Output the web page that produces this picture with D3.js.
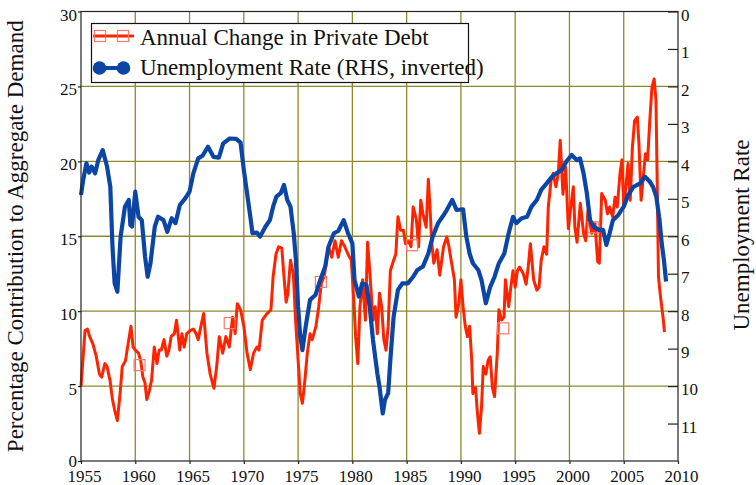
<!DOCTYPE html>
<html>
<head>
<meta charset="utf-8">
<script src="https://cdn.jsdelivr.net/npm/d3@7"></script>
<style>
  body { margin: 0; background: #fff; }
  svg { display: block; font-family: "Liberation Serif", "Times New Roman", serif; }
</style>
</head>
<body>
<div id="chart"></div>
<script>
// tick values
var yearTicks = [1955, 1960, 1965, 1970, 1975, 1980, 1985, 1990, 1995, 2000, 2005, 2010];
var debtTicks = [0, 5, 10, 15, 20, 25, 30];
var unempTicks = [0, 1, 2, 3, 4, 5, 6, 7, 8, 9, 10, 11];

// annual change in private debt, % of aggregate demand  [year, value]
var debtChange = [
  [1955.0, 5.0], [1955.2, 7.0], [1955.37, 8.7], [1955.6, 8.8], [1955.8, 8.3], [1956.1, 7.8],
  [1956.4, 7.0], [1956.7, 5.8], [1956.9, 5.6], [1957.2, 6.5], [1957.4, 6.3], [1957.67, 5.4],
  [1957.9, 4.1], [1958.1, 3.4], [1958.35, 2.7], [1958.6, 4.5], [1958.8, 6.3], [1959.1, 6.7],
  [1959.4, 8.1], [1959.6, 9.0], [1959.8, 7.6], [1960.0, 7.4], [1960.3, 7.2], [1960.5, 6.7],
  [1960.7, 5.6], [1960.9, 5.2], [1961.06, 4.1], [1961.3, 4.7], [1961.5, 5.4], [1961.75, 7.6],
  [1962.0, 6.5], [1962.2, 7.4], [1962.4, 7.4], [1962.65, 8.1], [1962.9, 7.0], [1963.1, 7.4],
  [1963.3, 8.3], [1963.6, 8.5], [1963.8, 9.4], [1964.1, 7.4], [1964.3, 8.5], [1964.5, 7.6],
  [1964.75, 8.5], [1965.05, 8.7], [1965.35, 8.8], [1965.6, 8.5], [1965.8, 8.1], [1966.05, 9.0],
  [1966.3, 9.85], [1966.6, 7.2], [1966.9, 5.8], [1967.25, 4.85], [1967.5, 6.3], [1967.74, 8.3],
  [1968.05, 7.2], [1968.35, 8.3], [1968.66, 7.6], [1968.97, 9.6], [1969.2, 8.5], [1969.4, 10.5],
  [1969.7, 10.1], [1970.0, 9.0], [1970.3, 7.2], [1970.6, 6.1], [1970.9, 7.2], [1971.2, 7.6],
  [1971.4, 7.4], [1971.7, 9.4], [1972.1, 9.8], [1972.5, 10.1], [1972.7, 12.3], [1972.96, 13.8],
  [1973.2, 14.3], [1973.5, 14.2], [1973.7, 12.3], [1973.9, 10.6], [1974.06, 11.2], [1974.3, 13.4],
  [1974.56, 12.5], [1974.77, 9.4], [1974.96, 7.2], [1975.2, 4.5], [1975.4, 3.85], [1975.6, 5.2],
  [1975.85, 7.2], [1976.1, 8.5], [1976.3, 8.1], [1976.65, 9.0], [1976.9, 10.3], [1977.15, 11.9],
  [1977.4, 12.3], [1977.8, 14.3], [1978.1, 13.6], [1978.4, 14.7], [1978.7, 13.6], [1979.0, 14.7],
  [1979.3, 14.3], [1979.6, 13.8], [1979.9, 13.4], [1980.15, 10.5], [1980.3, 8.3], [1980.5, 6.5],
  [1980.7, 10.3], [1980.95, 12.1], [1981.2, 9.4], [1981.4, 14.6], [1981.6, 12.7], [1981.9, 9.4],
  [1982.1, 10.3], [1982.3, 8.5], [1982.5, 11.2], [1982.7, 10.3], [1982.9, 8.1], [1983.1, 7.4],
  [1983.3, 9.0], [1983.5, 12.7], [1983.8, 13.4], [1984.0, 13.8], [1984.2, 16.3], [1984.45, 15.4],
  [1984.7, 15.4], [1984.9, 14.5], [1985.15, 14.7], [1985.4, 14.3], [1985.6, 16.95], [1985.9, 16.1],
  [1986.1, 14.3], [1986.3, 17.4], [1986.5, 16.5], [1986.8, 15.6], [1987.0, 18.8], [1987.15, 16.95],
  [1987.3, 14.7], [1987.5, 13.2], [1987.8, 14.1], [1988.05, 12.4], [1988.4, 14.3], [1988.7, 14.95],
  [1988.9, 14.3], [1989.1, 13.4], [1989.4, 12.1], [1989.55, 9.6], [1989.8, 10.5], [1990.0, 12.1],
  [1990.2, 10.3], [1990.4, 9.0], [1990.6, 8.3], [1990.8, 9.0], [1991.0, 6.7], [1991.1, 4.5],
  [1991.35, 4.9], [1991.5, 3.4], [1991.7, 1.85], [1991.9, 3.6], [1992.06, 6.3], [1992.3, 5.8],
  [1992.5, 6.7], [1992.7, 6.95], [1992.9, 4.9], [1993.1, 4.3], [1993.35, 7.2], [1993.5, 10.1],
  [1993.75, 9.4], [1993.97, 9.6], [1994.1, 12.1], [1994.4, 10.3], [1994.6, 11.6], [1994.8, 12.7],
  [1995.0, 11.6], [1995.2, 12.7], [1995.4, 12.95], [1995.75, 12.5], [1996.0, 11.8], [1996.2, 12.95],
  [1996.4, 14.5], [1996.7, 12.1], [1997.0, 11.4], [1997.2, 11.6], [1997.4, 13.4], [1997.65, 14.3],
  [1997.9, 13.8], [1998.05, 16.95], [1998.3, 18.7], [1998.5, 19.2], [1998.75, 18.3], [1998.97, 19.2],
  [1999.15, 21.4], [1999.4, 17.8], [1999.65, 19.6], [1999.9, 15.5], [2000.1, 16.8], [2000.36, 18.3],
  [2000.5, 15.6], [2000.7, 14.6], [2001.0, 17.2], [2001.3, 15.2], [2001.5, 14.7], [2001.7, 16.7],
  [2002.05, 15.2], [2002.35, 15.85], [2002.6, 13.3], [2002.75, 13.2], [2002.97, 17.85], [2003.3, 17.4],
  [2003.5, 16.5], [2003.7, 16.95], [2003.98, 16.3], [2004.2, 17.6], [2004.4, 16.95], [2004.66, 19.2],
  [2004.84, 20.1], [2005.0, 16.95], [2005.2, 18.3], [2005.4, 19.85], [2005.6, 17.4], [2005.8, 20.95],
  [2006.0, 22.7], [2006.25, 22.95], [2006.4, 21.2], [2006.6, 17.4], [2006.8, 18.95], [2007.0, 20.5],
  [2007.2, 20.1], [2007.4, 22.7], [2007.6, 24.95], [2007.8, 25.5], [2007.97, 24.1], [2008.1, 17.85],
  [2008.2, 12.3], [2008.35, 11.2], [2008.5, 10.3], [2008.65, 9.4], [2008.75, 8.6]
];

// hollow square markers on the debt series
var debtMarkers = [[1960.4, 6.4], [1968.7, 9.2], [1977.1, 11.95], [1985.5, 14.4], [1993.9, 8.85], [2002.2, 15.6]];

// unemployment rate, %  [year, value]  (plotted on the inverted right axis)
var unemployment = [
  [1955.0, 4.9], [1955.2, 4.5], [1955.5, 4.05], [1955.75, 4.3], [1955.98, 4.14], [1956.3, 4.32],
  [1956.6, 3.96], [1957.0, 3.7], [1957.4, 4.14], [1957.7, 4.68], [1957.9, 6.28], [1958.1, 7.26],
  [1958.35, 7.48], [1958.65, 6.01], [1959.05, 5.21], [1959.4, 5.03], [1959.55, 5.7], [1959.7, 5.74],
  [1960.0, 4.81], [1960.3, 5.48], [1960.6, 5.57], [1960.9, 6.54], [1961.14, 7.08], [1961.4, 6.72],
  [1961.8, 5.74], [1962.1, 5.48], [1962.6, 5.57], [1962.95, 5.88], [1963.35, 5.52], [1963.7, 5.65],
  [1964.1, 5.17], [1964.6, 4.99], [1965.0, 4.81], [1965.35, 4.32], [1965.8, 3.92], [1966.2, 3.85],
  [1966.7, 3.61], [1967.2, 3.88], [1967.7, 3.9], [1968.1, 3.52], [1968.7, 3.39], [1969.3, 3.4],
  [1969.7, 3.5], [1970.0, 4.23], [1970.3, 4.85], [1970.6, 5.48], [1970.8, 5.92], [1971.2, 5.9],
  [1971.5, 6.01], [1972.0, 5.74], [1972.4, 5.57], [1972.7, 5.21], [1973.0, 4.94], [1973.4, 4.85],
  [1973.7, 4.63], [1974.0, 5.03], [1974.3, 5.21], [1974.6, 5.92], [1974.8, 6.63], [1975.0, 7.88],
  [1975.2, 8.68], [1975.4, 9.04], [1975.7, 8.41], [1976.1, 7.7], [1976.6, 7.57], [1977.0, 7.2],
  [1977.5, 6.81], [1977.8, 6.28], [1978.3, 5.92], [1978.7, 5.86], [1979.2, 5.57], [1979.6, 5.92],
  [1980.0, 6.19], [1980.2, 7.17], [1980.6, 7.61], [1980.9, 7.26], [1981.3, 7.3], [1981.6, 7.88],
  [1981.9, 8.77], [1982.3, 9.66], [1982.5, 10.02], [1982.8, 10.73], [1983.0, 10.37], [1983.3, 10.19],
  [1983.5, 9.3], [1983.8, 8.15], [1984.2, 7.43], [1984.6, 7.26], [1985.1, 7.26], [1985.6, 7.08],
  [1986.0, 6.9], [1986.5, 6.81], [1987.0, 6.46], [1987.4, 6.01], [1987.9, 5.65], [1988.3, 5.48],
  [1988.7, 5.3], [1989.2, 5.03], [1989.6, 5.3], [1990.2, 5.28], [1990.5, 6.01], [1990.8, 6.46],
  [1991.1, 6.72], [1991.6, 6.9], [1991.9, 7.17], [1992.3, 7.79], [1992.7, 7.35], [1993.1, 7.08],
  [1993.5, 6.72], [1994.0, 6.46], [1994.4, 5.92], [1994.8, 5.48], [1995.1, 5.65], [1995.6, 5.52],
  [1996.1, 5.48], [1996.5, 5.21], [1997.0, 5.03], [1997.4, 4.76], [1997.9, 4.59], [1998.4, 4.41],
  [1998.8, 4.32], [1999.3, 4.23], [1999.7, 4.01], [2000.2, 3.83], [2000.7, 3.97], [2000.97, 3.92],
  [2001.3, 4.32], [2001.6, 4.85], [2001.9, 5.57], [2002.2, 5.74], [2002.7, 5.83], [2003.1, 5.83],
  [2003.4, 6.23], [2003.7, 5.92], [2004.0, 5.57], [2004.5, 5.43], [2005.0, 5.21], [2005.4, 4.9],
  [2005.9, 4.68], [2006.5, 4.59], [2006.96, 4.41], [2007.4, 4.54], [2007.7, 4.68], [2008.0, 4.94],
  [2008.3, 5.57], [2008.5, 6.19], [2008.7, 6.63], [2008.9, 7.21]
];

var legendLabels = ["Annual Change in Private Debt", "Unemployment Rate (RHS, inverted)"];

var red = "#ff2400", redLight = "#ff7a66", blue = "#0b45a6", grid = "#8f892c";

var width = 756, height = 485;
var margin = { top: 11.5, right: 78, bottom: 24, left: 81 };

var svg = d3.select("#chart").append("svg")
  .attr("width", width)
  .attr("height", height);

var x = d3.scaleLinear().domain([1955, 2010]).range([margin.left, width - margin.right]);
var yLeft = d3.scaleLinear().domain([0, 30]).range([height - margin.bottom, margin.top]);
var yRight = d3.scaleLinear().domain([0, 12]).range([margin.top, height - margin.bottom]);

// grid lines
svg.append("g").selectAll("line")
  .data(yearTicks.slice(1, -1))
  .enter().append("line")
  .attr("x1", function(d) { return x(d); })
  .attr("x2", function(d) { return x(d); })
  .attr("y1", yLeft(0))
  .attr("y2", yLeft(30))
  .style("stroke", grid)
  .style("stroke-width", 1.3);

svg.append("g").selectAll("line")
  .data(debtTicks.slice(1, -1))
  .enter().append("line")
  .attr("x1", x(1955))
  .attr("x2", x(2010))
  .attr("y1", function(d) { return yLeft(d); })
  .attr("y2", function(d) { return yLeft(d); })
  .style("stroke", grid)
  .style("stroke-width", 1.3);

// debt series
var debtLine = d3.line()
  .x(function(d) { return x(d[0]); })
  .y(function(d) { return yLeft(d[1]); });

svg.append("path")
  .datum(debtChange)
  .attr("d", debtLine)
  .style("fill", "none")
  .style("stroke", red)
  .style("stroke-width", 3)
  .style("stroke-linejoin", "round");

svg.append("g").selectAll("rect")
  .data(debtMarkers)
  .enter().append("rect")
  .attr("x", function(d) { return x(d[0]) - 5.5; })
  .attr("y", function(d) { return yLeft(d[1]) - 5.5; })
  .attr("width", 11)
  .attr("height", 11)
  .style("fill", "none")
  .style("stroke", redLight)
  .style("stroke-width", 1.2);

// unemployment series, inverted right axis
var unempLine = d3.line()
  .x(function(d) { return x(d[0]); })
  .y(function(d) { return yRight(d[1]); });

svg.append("path")
  .datum(unemployment)
  .attr("d", unempLine)
  .style("fill", "none")
  .style("stroke", blue)
  .style("stroke-width", 4.2)
  .style("stroke-linejoin", "round");

// frame
svg.append("rect")
  .attr("x", x(1955))
  .attr("y", yLeft(30))
  .attr("width", x(2010) - x(1955))
  .attr("height", yLeft(0) - yLeft(30))
  .style("fill", "none")
  .style("stroke", "#222")
  .style("stroke-width", 1.2);

// axes
var leftAxis = svg.append("g")
  .attr("transform", "translate(" + x(1955) + ",0)")
  .call(d3.axisLeft(yLeft).tickValues(debtTicks).tickSize(3).tickPadding(1));

var bottomAxis = svg.append("g")
  .attr("transform", "translate(0," + yLeft(0) + ")")
  .call(d3.axisBottom(x).tickValues(yearTicks).tickFormat(d3.format("d")).tickSize(3).tickPadding(6));

var rightAxis = svg.append("g")
  .attr("transform", "translate(" + x(2010) + ",0)")
  .call(d3.axisRight(yRight).tickValues(unempTicks).tickSize(-10).tickPadding(3));

[leftAxis, bottomAxis, rightAxis].forEach(function(ax) {
  ax.select(".domain").remove();
  ax.selectAll("line").style("stroke", "#222").style("stroke-width", 1.2);
  ax.selectAll("text")
    .style("font-family", "'Liberation Serif', 'Times New Roman', serif")
    .style("font-size", "17px")
    .style("fill", "#111");
});
// the 0 label sits right above 1955, keep it a touch higher
leftAxis.selectAll("text").attr("dy", function(d) { return d === 0 ? "0.3em" : "0.5em"; });
rightAxis.selectAll("text").attr("dy", "0.52em");
bottomAxis.selectAll("text").attr("dx", 3);

// axis titles
svg.append("text")
  .attr("transform", "translate(23," + (margin.top + (yLeft(0) - yLeft(30)) / 2) + ") rotate(-90)")
  .attr("text-anchor", "middle")
  .style("font-size", "23px")
  .style("fill", "#111")
  .text("Percentage Contribution to Aggregate Demand");

svg.append("text")
  .attr("transform", "translate(749,235) rotate(-90)")
  .attr("text-anchor", "middle")
  .style("font-size", "23px")
  .style("fill", "#111")
  .text("Unemployment Rate");

// legend
var legend = svg.append("g");

legend.append("rect")
  .attr("x", 91.5)
  .attr("y", 23.5)
  .attr("width", 377)
  .attr("height", 59)
  .style("fill", "#fff")
  .style("stroke", "#111")
  .style("stroke-width", 1.2);

legend.append("line")
  .attr("x1", 93).attr("x2", 134).attr("y1", 36).attr("y2", 36)
  .style("stroke", red).style("stroke-width", 3);
legend.selectAll(".sq")
  .data([100, 123])
  .enter().append("rect")
  .attr("class", "sq")
  .attr("x", function(d) { return d - 5.5; })
  .attr("y", 30.5)
  .attr("width", 11)
  .attr("height", 11)
  .style("fill", "none")
  .style("stroke", redLight)
  .style("stroke-width", 1.2);

legend.append("line")
  .attr("x1", 99).attr("x2", 124).attr("y1", 68).attr("y2", 68)
  .style("stroke", blue).style("stroke-width", 4);
legend.selectAll(".dot")
  .data([99.5, 123.5])
  .enter().append("circle")
  .attr("class", "dot")
  .attr("cx", function(d) { return d; })
  .attr("cy", 68)
  .attr("r", 6.8)
  .style("fill", blue);

legend.selectAll(".lbl")
  .data(legendLabels)
  .enter().append("text")
  .attr("class", "lbl")
  .attr("x", 140)
  .attr("y", function(d, i) { return 44.5 + i * 30.5; })
  .style("font-size", "23px")
  .style("fill", "#111")
  .text(function(d) { return d; });
</script>
</body>
</html>
